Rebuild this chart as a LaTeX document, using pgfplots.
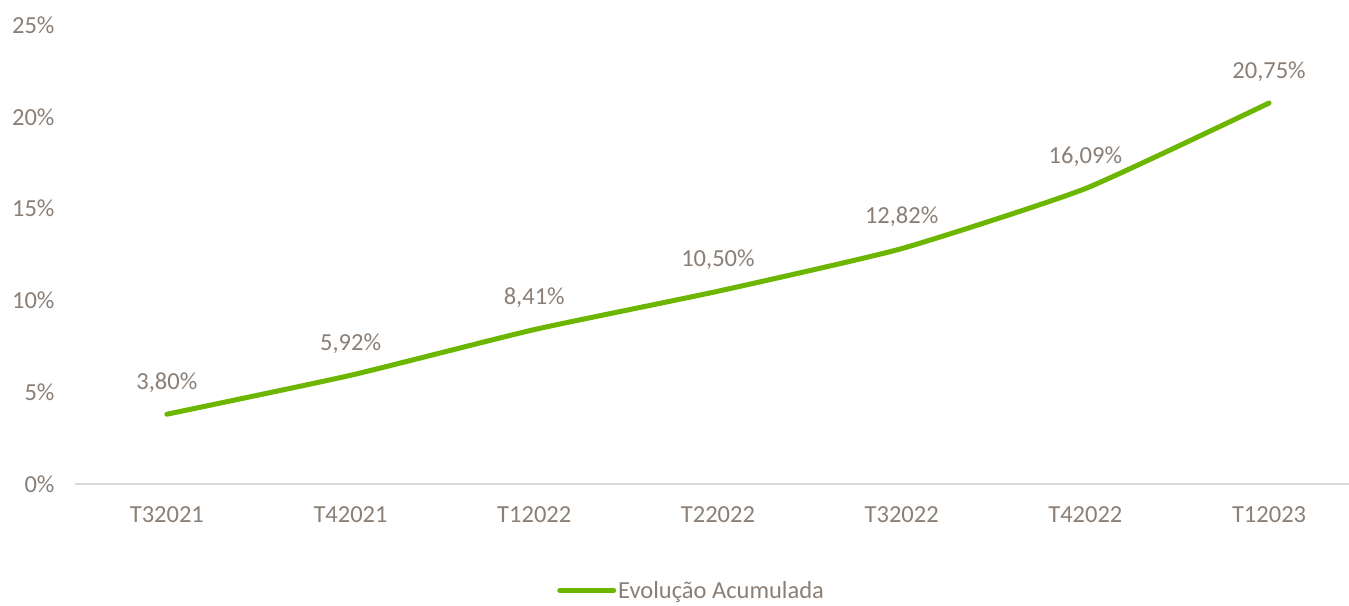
\documentclass[border=0pt]{standalone}
\usepackage{pgfplots}
\pgfplotsset{compat=1.18}
\usepackage{fontspec}
\setmainfont{Carlito}
\definecolor{txtgray}{HTML}{8A7F76}
\definecolor{linegreen}{HTML}{6CB600}
\definecolor{axgray}{HTML}{D9D9D9}
\begin{document}
\begin{tikzpicture}[x=1pt,y=1pt]
\path[use as bounding box] (0,0) rectangle (1349,605);
\begin{axis}[
  at={(75pt,121pt)}, anchor=south west,
  scale only axis, width=1274pt, height=459pt,
  xmin=-0.5, xmax=6.435, ymin=0, ymax=25,
  axis x line*=bottom,
  axis y line*=left,
  x axis line style={draw=axgray, line width=1.5pt, -},
  y axis line style={draw=none},
  major tick length=0pt,
  xtick={0,...,6},
  xticklabels={T32021,T42021,T12022,T22022,T32022,T42022,T12023},
  ytick={0,5,10,15,20,25},
  yticklabel={\pgfmathprintnumber{\tick}\%},
  /pgf/number format/assume math mode=true,
  ticklabel style={font=\fontsize{24.5}{28}\selectfont, text=txtgray},
  xticklabel style={yshift=-19pt},
  yticklabel style={xshift=-17pt},
  legend style={at={(0.484,-0.232)}, anchor=center, draw=none, fill=none,
    font=\fontsize{24.5}{28}\selectfont, text=txtgray, inner sep=0pt},
  legend image code/.code={\draw[#1, line width=5pt] (0pt,0pt) -- (54pt,0pt);},
  legend cell align=left,
  clip=false,
]
\addplot[linegreen, line width=5pt, line cap=round, smooth, tension=0.3,
  nodes near coords={\pgfmathprintnumber[fixed,fixed zerofill,precision=2,use comma]{\pgfplotspointmeta}\%},
  nodes near coords style={font=\fontsize{24.5}{28}\selectfont, text=txtgray, anchor=south, yshift=16pt},
  point meta=explicit]
coordinates {
(0,3.80) [3.80]
(1,5.92) [5.92]
(2,8.41) [8.41]
(3,10.50) [10.50]
(4,12.82) [12.82]
(5,16.09) [16.09]
(6,20.75) [20.75]
};
\addlegendentry{Evolução Acumulada}
\end{axis}
\end{tikzpicture}
\end{document}
